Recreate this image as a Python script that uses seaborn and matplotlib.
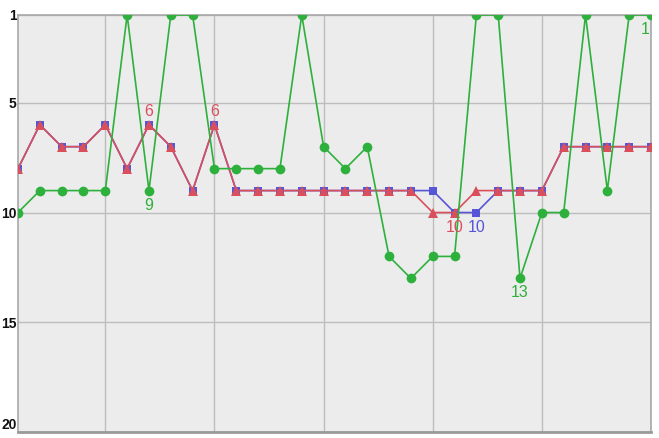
import pandas as pd
import matplotlib.pyplot as plt
import seaborn as sns

# dane: pozycje w rankingu dla 30 dni
days = list(range(1, 31))
green = [10, 9, 9, 9, 9, 1, 9, 1, 1, 8, 8, 8, 8, 1, 7, 8, 7, 12, 13, 12,
         12, 1, 1, 13, 10, 10, 1, 9, 1, 1]
blue = [8, 6, 7, 7, 6, 8, 6, 7, 9, 6, 9, 9, 9, 9, 9, 9, 9, 9, 9, 9,
        10, 10, 9, 9, 9, 7, 7, 7, 7, 7]
red = [8, 6, 7, 7, 6, 8, 6, 7, 9, 6, 9, 9, 9, 9, 9, 9, 9, 9, 9, 10,
       10, 9, 9, 9, 9, 7, 7, 7, 7, 7]
y_ticks = [1, 5, 10, 15, 20]
x_ticks = [5, 10, 15, 20, 25, 30]

# etykiety przy wybranych punktach: (seria, dzień, tekst, nad/pod)
labels = [("red", 7, "6", "above"), ("red", 10, "6", "above"),
          ("green", 7, "9", "below"), ("red", 21, "10", "below"),
          ("blue", 22, "10", "below"), ("green", 24, "13", "below"),
          ("green", 30, "1", "below")]

colors = {"green": "#2eb03c", "blue": "#5656d6", "red": "#d9505c"}
values = {"green": green, "blue": blue, "red": red}

sns.set_style("white")
plt.rcParams['font.family'] = ['Liberation Sans', 'DejaVu Sans']

fig = plt.figure(figsize=(6.59, 4.38), dpi=100)
ax = fig.add_axes([18 / 659, 1 - 432 / 438, 633 / 659, 417 / 438])
ax.set_facecolor("#ececec")

sns.lineplot(x=days, y=blue, color=colors["blue"], marker="s", markersize=5.5,
             markeredgewidth=0, linewidth=1.2, ax=ax, zorder=3)
sns.lineplot(x=days, y=red, color=colors["red"], marker="^", markersize=6.5,
             markeredgewidth=0, linewidth=1.2, ax=ax, zorder=4)
sns.lineplot(x=days, y=green, color=colors["green"], marker="o", markersize=7,
             markeredgewidth=0, linewidth=1.2, ax=ax, zorder=5)

for name, d, txt, pos in labels:
    v = values[name][d - 1]
    dy = 9.5 if pos == "above" else -10.5
    dx = -4 if d == 30 else 0
    ax.annotate(txt, (d, v), xytext=(dx, dy), textcoords="offset points",
                ha="center", va="center", color=colors[name], fontsize=11.5,
                zorder=6)

ax.set_xlim(1, 30)
ax.set_ylim(20, 1)
ax.set_yticks(y_ticks)
ax.set_yticklabels([str(t) for t in y_ticks], fontsize=10, fontweight="bold",
                   color="#111111")
ax.get_yticklabels()[-1].set_va("bottom")
ax.set_xticks(x_ticks)
ax.set_xticklabels([])
ax.tick_params(axis="both", length=0, pad=1)
ax.grid(True, color="#bdbdbd", linewidth=1)
ax.set_axisbelow(True)
for side in ["top", "left", "right"]:
    ax.spines[side].set_color("#a8a8a8")
    ax.spines[side].set_linewidth(1.2)
ax.spines["bottom"].set_color("#9a9a9a")
ax.spines["bottom"].set_linewidth(2)
ax.set_xlabel("")
ax.set_ylabel("")

plt.savefig("out.png", dpi=100)
